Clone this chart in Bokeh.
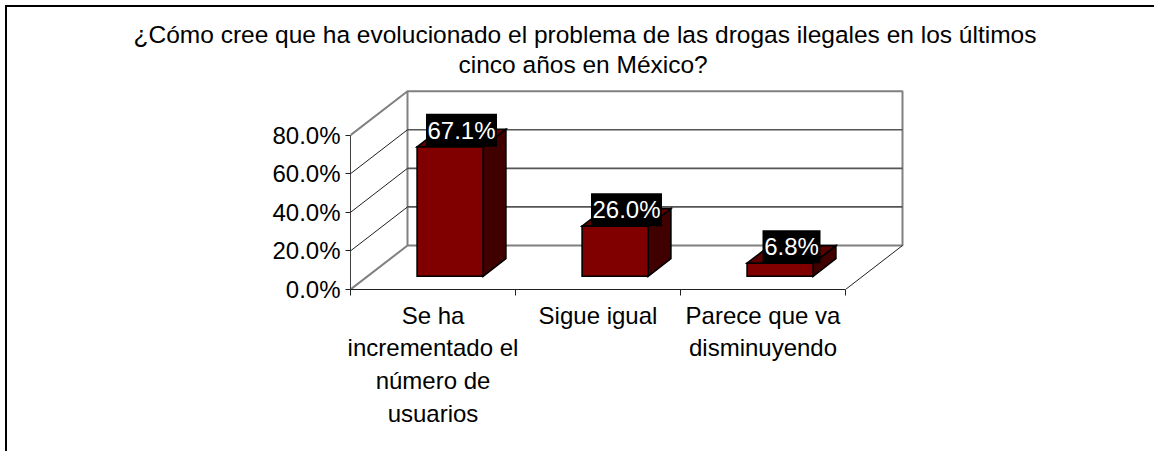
from bokeh.core.properties import value
from bokeh.embed import file_html
from bokeh.models import ColumnDataSource, FixedTicker, Range1d, Title
from bokeh.plotting import figure
from bokeh.resources import INLINE

# Survey results
categories = ["Se ha\nincrementado el\nnúmero de\nusuarios", "Sigue igual", "Parece que va\ndisminuyendo"]
values = [67.1, 26.0, 6.8]
value_labels = ["67.1%", "26.0%", "6.8%"]
percent_ticks = [0, 20, 40, 60, 80]
percent_tick_labels = ["0.0%", "20.0%", "40.0%", "60.0%", "80.0%"]
title_lines = ["¿Cómo cree que ha evolucionado el problema de las drogas ilegales en los últimos",
               "cinco años en México?"]

# Oblique projection: one unit of depth moves a point right and up, in data units
DEPTH_X = 57 / 165
DEPTH_Y = 44 / 1.929
BAR_WIDTH = 0.4
BAR_Z = (0.3, 0.7)
Y_MAX = 80
N = len(categories)
FONT = "Liberation Sans"
TEXT_SIZE = "24px"


def project(x, y, z):
    return x + z * DEPTH_X, y + z * DEPTH_Y


def path(*points):
    xs, ys = zip(*(project(*pt) for pt in points))
    return list(xs), list(ys)


# The page frame is a rule on the top and left edges of the figure
p = figure(width=1149, height=446, output_backend="svg", toolbar_location=None,
           x_range=Range1d(0, 806 / 165), y_range=Range1d(0, 211 / 1.929),
           min_border_left=343, min_border_right=0, min_border_top=71, min_border_bottom=164,
           outline_line_color=None, background_fill_color="white", border_fill_color="white",
           margin=(5, 0, 0, 5),
           styles={"border-left": "2px solid #000000", "border-top": "2px solid #000000"})
p.grid.visible = False

# Two title lines, each offset from the plotting area so that they centre on the page;
# the line added first sits closest to the plot
for line, shift in ((title_lines[1], 108), (title_lines[0], -217)):
    p.add_layout(Title(text=line, align="left", offset=shift, text_font=FONT, text_font_size="24.5px",
                       text_font_style="normal", text_color="#000000", standoff=1), "above")

# Axes
p.yaxis.ticker = FixedTicker(ticks=percent_ticks)
p.yaxis.major_label_overrides = dict(zip(percent_ticks, percent_tick_labels))
p.yaxis.bounds = (0, Y_MAX)
p.yaxis.major_label_text_font = FONT
p.yaxis.major_label_text_font_size = TEXT_SIZE
p.yaxis.major_label_text_color = "#000000"
p.yaxis.major_label_standoff = 5
p.yaxis.major_tick_in = 0
p.yaxis.major_tick_out = 5
p.yaxis.minor_tick_line_color = None
p.yaxis.axis_line_color = "#404040"
p.yaxis.major_tick_line_color = "#202020"

centers = [i + 0.5 for i in range(N)]
p.xaxis.ticker = FixedTicker(ticks=centers, minor_ticks=list(range(N + 1)))
p.xaxis.major_label_overrides = dict(zip(centers, categories))
p.xaxis.bounds = (0, N)
p.xaxis.major_label_text_font = FONT
p.xaxis.major_label_text_font_size = TEXT_SIZE
p.xaxis.major_label_text_color = "#000000"
p.xaxis.major_label_text_line_height = 1.22
p.xaxis.major_label_standoff = 6
p.xaxis.major_tick_line_color = None
p.xaxis.minor_tick_in = 0
p.xaxis.minor_tick_out = 6
p.xaxis.minor_tick_line_color = "#202020"
p.xaxis.axis_line_color = "#202020"

# Walls and floor outline
wall = [path((0, Y_MAX, 0), (0, Y_MAX, 1), (N, Y_MAX, 1), (N, 0, 1), (0, 0, 1), (0, Y_MAX, 1)),
        path((0, 0, 0), (0, 0, 1))]
p.multi_line([w[0] for w in wall], [w[1] for w in wall], line_color="#808080", line_width=2)

# Gridlines along the back wall and across the side wall
inner = [t for t in percent_ticks if 0 < t < Y_MAX]
back = [path((0, t, 1), (N, t, 1)) for t in inner]
p.multi_line([b[0] for b in back], [b[1] for b in back], line_color="#555555", line_width=1.6)
side = [path((0, t, 0), (0, t, 1)) for t in inner] + [path((N, 0, 0), (N, 0, 1))]
p.multi_line([s[0] for s in side], [s[1] for s in side], line_color="#202020", line_width=1)

# Bars: side, top and front faces
z0, z1 = BAR_Z
for face, colour in (("side", "#400000"), ("top", "#5a0000"), ("front", "#800000")):
    faces = []
    for c, v in zip(centers, values):
        l, r = c - BAR_WIDTH / 2, c + BAR_WIDTH / 2
        if face == "side":
            faces.append(path((r, 0, z0), (r, 0, z1), (r, v, z1), (r, v, z0)))
        elif face == "top":
            faces.append(path((l, v, z0), (l, v, z1), (r, v, z1), (r, v, z0)))
        else:
            faces.append(path((l, 0, z0), (r, 0, z0), (r, v, z0), (l, v, z0)))
    p.patches([f[0] for f in faces], [f[1] for f in faces], fill_color=colour,
              line_color="#000000", line_width=1.6, line_join="miter")

# Value labels on a black box above each bar
label_pos = [project(c, v + 4, 0.5) for c, v in zip(centers, values)]
source = ColumnDataSource(dict(x=[q[0] for q in label_pos], y=[q[1] for q in label_pos], text=value_labels,
                               box=[13 * len(t) + 6 for t in value_labels]))
p.rect(x="x", y="y", width="box", height=33, width_units="screen", height_units="screen",
       fill_color="#000000", line_color=None, source=source)
p.text(x="x", y="y", text="text", text_align="center", text_baseline="middle",
       text_font=value(FONT), text_font_size=value(TEXT_SIZE), text_color="#ffffff", source=source)

open("out.html", "w").write(file_html(p, INLINE))
